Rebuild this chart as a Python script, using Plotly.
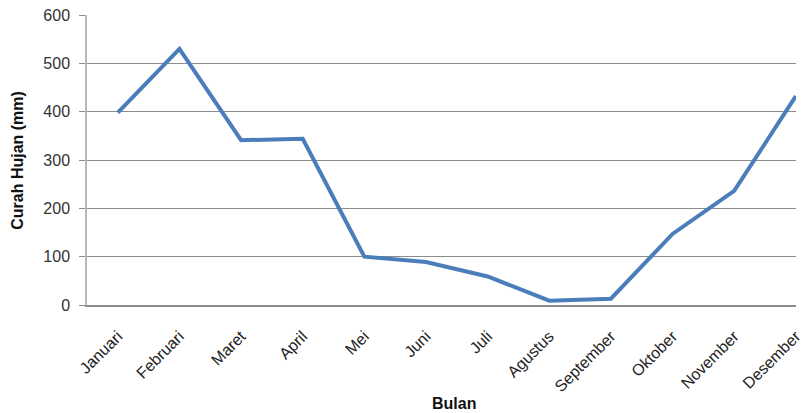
import plotly.graph_objects as go

bulan = ["Januari", "Februari", "Maret", "April", "Mei", "Juni", "Juli",
         "Agustus", "September", "Oktober", "November", "Desember"]
curah_hujan = [398, 530, 341, 344, 100, 89, 59, 9, 13, 147, 236, 432]
y_ticks = [0, 100, 200, 300, 400, 500, 600]

L, R, T, B = 87, 0, 15, 108
W, H = 804, 413
pw = W - L - R
ph = H - T - B

fig = go.Figure()
fig.add_trace(go.Scatter(
    x=list(range(len(bulan))), y=curah_hujan, mode="lines",
    line=dict(color="#4a7ebb", width=4), cliponaxis=False,
    hoverinfo="skip"))

font = "Liberation Sans, Arial, sans-serif"
fig.update_layout(
    width=W, height=H,
    margin=dict(l=L, r=R, t=T, b=B, pad=0),
    paper_bgcolor="white", plot_bgcolor="white",
    showlegend=False,
    font=dict(family=font, size=14, color="#333333"),
    xaxis=dict(
        range=[-0.5, 11.003], tickmode="array",
        tickvals=list(range(len(bulan))), ticktext=bulan,
        tickangle=-45, showgrid=False, zeroline=False,
        showline=True, linecolor="#8c8c8c", linewidth=1.5,
        ticks="", ticklabelstandoff=14, ticklabeloverflow="allow",
        tickfont=dict(size=16, color="#222222"),
        fixedrange=True),
    yaxis=dict(
        range=[0, 600], tickmode="array", tickvals=y_ticks,
        showgrid=True, gridcolor="#8c8c8c", gridwidth=1,
        zeroline=False, showline=True, linecolor="#b8b8b8", linewidth=1.5,
        ticks="outside", ticklen=6, tickcolor="#8c8c8c",
        ticklabelstandoff=6,
        tickfont=dict(size=16, color="#333333"), fixedrange=True),
    annotations=[
        dict(text="<b>Curah Hujan (mm)</b>", textangle=-90,
             xref="paper", yref="paper", x=(16 - L) / pw, y=0.5,
             xanchor="center", yanchor="middle", showarrow=False,
             font=dict(family=font, size=16, color="#111111")),
        dict(text="<b>Bulan</b>",
             xref="paper", yref="paper", x=(458 - L) / pw,
             y=(H - B - 403) / ph,
             xanchor="center", yanchor="middle", showarrow=False,
             font=dict(family=font, size=16, color="#111111")),
    ],
)

fig.write_html("out.html")
